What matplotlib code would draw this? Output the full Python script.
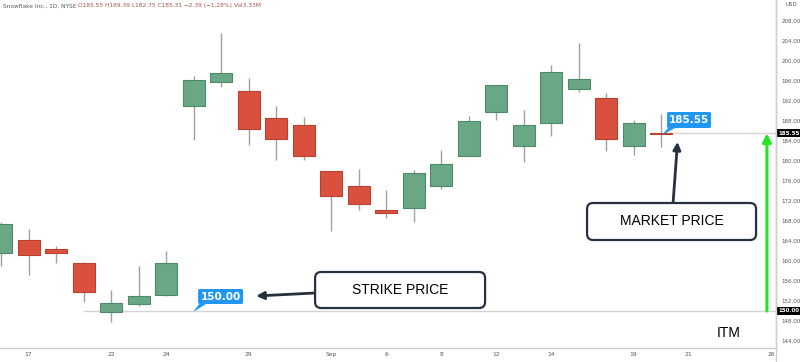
import numpy as np
import matplotlib
matplotlib.use('Agg')
import matplotlib.pyplot as plt
from matplotlib.patches import FancyBboxPatch, Polygon
from matplotlib.lines import Line2D
import matplotlib.transforms as mtransforms

# ── Data (Snowflake daily candles, 16 Aug → 20 Sep) ────────────────────────────
opens  = [161.7, 164.1, 162.3, 159.7, 149.9, 151.5, 153.2, 191.0, 195.8, 193.9,
          188.7, 187.2, 177.9, 174.9, 170.1, 170.7, 175.1, 181.0, 189.8, 182.9,
          187.7, 194.4, 192.5, 182.9, 185.55]
highs  = [167.8, 166.3, 162.9, 159.8, 154.1, 159.0, 162.0, 196.9, 205.5, 196.5,
          191.0, 188.7, 178.0, 178.3, 174.1, 178.1, 182.2, 189.0, 195.2, 190.1,
          199.2, 203.5, 193.5, 188.1, 189.39]
lows   = [158.9, 157.1, 159.5, 151.7, 147.7, 151.0, 153.0, 184.1, 194.7, 183.2,
          180.2, 180.1, 165.9, 170.2, 168.5, 167.7, 174.3, 180.9, 188.2, 179.8,
          185.0, 193.7, 182.0, 181.2, 182.75]
closes = [167.3, 161.2, 161.7, 153.9, 151.6, 153.0, 159.5, 196.2, 197.7, 186.3,
          184.5, 180.9, 173.1, 171.4, 169.7, 177.7, 179.3, 188.1, 195.1, 187.2,
          197.8, 196.3, 184.4, 187.5, 185.31]

date_ticks  = [1, 4, 6, 9, 12, 14, 16, 18, 20, 23, 25, 28]
date_labels = ['17', '22', '24', '29', 'Sep', '6', '8', '12', '14', '19', '21', '26']
price_ticks = list(range(144, 209, 4))

STRIKE = 150.00
MARKET = 185.55
HEADER_NAME = "Snowflake Inc., 1D, NYSE "
HEADER_VALS = "O185.55 H189.39 L182.75 C185.31 \u22122.39 (\u22121.28%) Vol3.33M"

UP, UP_EDGE = '#6aa784', '#4f8a68'
DN, DN_EDGE = '#d9503e', '#b9412f'
TAG_BLUE = '#2196f3'
NAVY = '#27303f'

# ── Figure / axes (pixel layout of the 800x362 screenshot) ─────────────────────
W, H = 800, 362
fig = plt.figure(figsize=(W / 100, H / 100), dpi=100)
ax = fig.add_axes([0, (H - 348) / H, 776 / W, 348 / H])
ax.set_xlim(-0.04, 28.18)
ax.set_ylim(142.6, 212.2)

def px(x, y):
    """screenshot pixel -> data coords"""
    return (x - 1) / 27.5, 150 + (311 - y) / 5

# ── Candles ────────────────────────────────────────────────────────────────────
idx = np.arange(len(opens))
o, h, l, c = map(np.array, (opens, highs, lows, closes))
up = c >= o
ax.vlines(idx, l, h, color='#a0a0a0', lw=1, zorder=2)
bottom = np.minimum(o, c)
height = np.maximum(np.abs(c - o), 0.3)
ax.bar(idx[up], height[up], 0.8, bottom[up], color=UP, edgecolor=UP_EDGE,
       lw=0.8, zorder=3)
ax.bar(idx[~up], height[~up], 0.8, bottom[~up], color=DN, edgecolor=DN_EDGE,
       lw=0.8, zorder=3)

# ── Horizontal price lines ─────────────────────────────────────────────────────
ax.hlines(STRIKE, px(83, 0)[0], 28.18, color='#d4d4d4', lw=1, zorder=1)
ax.hlines(MARKET, idx[-1] + 0.45, 28.18, color='#d4d4d4', lw=1, zorder=1)

# ── Axes styling ───────────────────────────────────────────────────────────────
for s in ('top', 'left'):
    ax.spines[s].set_visible(False)
for s in ('bottom', 'right'):
    ax.spines[s].set_color('#cfcfcf')
    ax.spines[s].set_linewidth(1)
ax.yaxis.tick_right()
ax.set_yticks(price_ticks)
ax.set_yticklabels([f'{v:.2f}' for v in price_ticks])
ax.set_xticks(date_ticks)
ax.set_xticklabels(date_labels)
ax.tick_params(axis='y', length=0, pad=4, labelsize=4, labelcolor='#555555')
ax.tick_params(axis='x', length=0, pad=3, labelsize=4.3, labelcolor='#555555')
fig.add_artist(Line2D([776 / W, 776 / W], [0, 1], color='#cfcfcf', lw=1))

# black price tags on the axis
ytr = mtransforms.blended_transform_factory(ax.transAxes, ax.transData)
for v in (STRIKE, MARKET):
    ax.text(1.0035, v, f'{v:.2f}', transform=ytr, ha='left', va='center',
            fontsize=4, color='white', fontweight='bold', zorder=6, clip_on=False,
            bbox=dict(boxstyle='square,pad=0.25', fc='black', ec='none'))
fig.text(785 / W, 1 - 5 / H, 'USD', fontsize=4, color='#555555', va='center')

# header
t0 = fig.text(3 / W, 1 - 6 / H, HEADER_NAME, fontsize=4.2, color='#5a5a5a',
              va='center')
ax.annotate(HEADER_VALS, xy=(1, 0.5), xycoords=t0, va='center', fontsize=4.2,
            color='#a5554c', annotation_clip=False)

# ── Blue callout tags ──────────────────────────────────────────────────────────
def callout(x0, y0, x1, y1, tip, text):
    (a, b), (cc, d) = px(x0, y1), px(x1, y0)
    box = FancyBboxPatch((a, b), cc - a, d - b,
                         boxstyle='round,pad=0,rounding_size=0.06',
                         mutation_aspect=5.5, fc=TAG_BLUE, ec='none', zorder=7)
    ax.add_patch(box)
    tri = Polygon([px(x0 + 1, y1), px(x0 + 8, y1), px(*tip)], closed=True,
                  fc=TAG_BLUE, ec='none', zorder=7)
    ax.add_patch(tri)
    cx, cy = px((x0 + x1) / 2, (y0 + y1) / 2)
    ax.text(cx, cy, text, ha='center', va='center', color='white',
            fontsize=7.5, fontweight='bold', zorder=8)

callout(198, 289, 243, 304, (193, 312), f'{STRIKE:.2f}')
callout(667, 112, 711, 128, (662, 135), f'{MARKET:.2f}')

# ── Label boxes with arrows ────────────────────────────────────────────────────
def label_box(x0, y0, x1, y1, text):
    (a, b), (cc, d) = px(x0, y1), px(x1, y0)
    box = FancyBboxPatch((a, b), cc - a, d - b,
                         boxstyle='round,pad=0,rounding_size=0.22',
                         mutation_aspect=5.5, fc='white', ec=NAVY, lw=1.6, zorder=7)
    ax.add_patch(box)
    cx, cy = px((x0 + x1) / 2, (y0 + y1) / 2)
    ax.text(cx, cy, text, ha='center', va='center', color='black',
            fontsize=10, family='Liberation Sans', zorder=8)

label_box(315, 272, 485, 308, 'STRIKE PRICE')
label_box(587, 203, 756, 240, 'MARKET PRICE')

arrow = dict(arrowstyle='-|>,head_length=0.45,head_width=0.22', color=NAVY,
             lw=2, shrinkA=0, shrinkB=0)
ax.annotate('', xy=px(256, 296), xytext=px(315, 293), arrowprops=arrow, zorder=6)
ax.annotate('', xy=(idx[-1] + 0.6, MARKET - 1.7), xytext=px(673, 203),
            arrowprops=arrow, zorder=6)

# green ITM range arrow
ax.annotate('', xy=(27.85, MARKET), xytext=(27.85, STRIKE),
            arrowprops=dict(arrowstyle='-|>,head_length=0.5,head_width=0.25',
                            color='#22e622', lw=2.2, shrinkA=0, shrinkB=0),
            zorder=6)
ax.text(*px(729, 333), 'ITM', ha='center', va='center', fontsize=10,
        family='Liberation Sans', color='black')

fig.savefig('out.png', dpi=100, facecolor='white')
